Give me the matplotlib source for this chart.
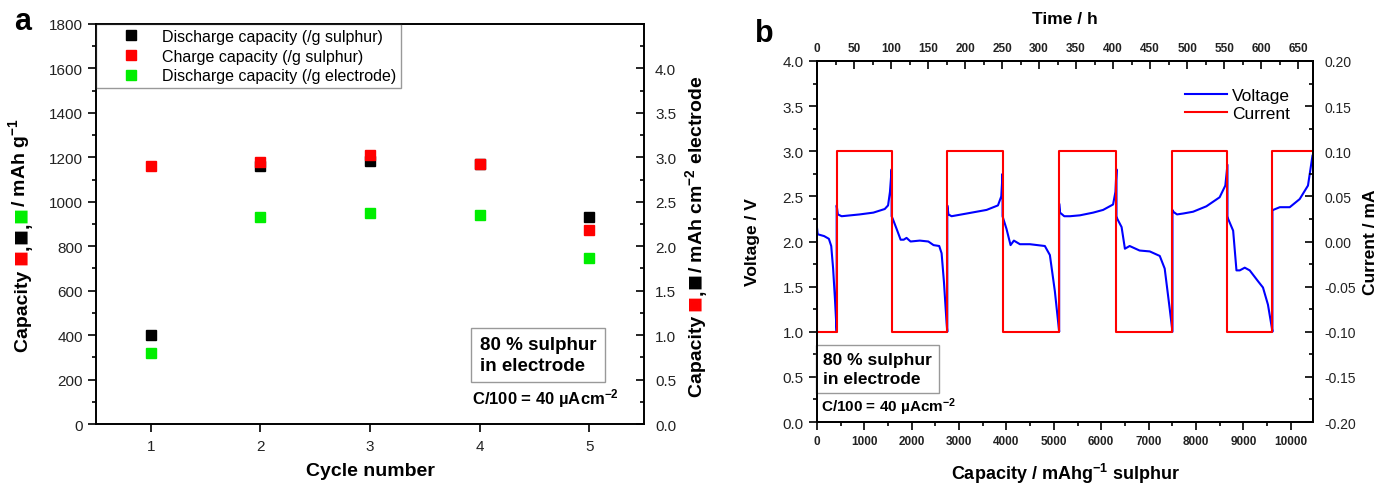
import matplotlib
matplotlib.use("Agg")
import matplotlib.pyplot as plt
from matplotlib.ticker import MultipleLocator, FormatStrFormatter

plt.rcParams['font.family'] = ['Liberation Sans', 'DejaVu Sans']
plt.rcParams['mathtext.fontset'] = 'custom'
plt.rcParams['mathtext.bf'] = 'Liberation Sans:bold'
plt.rcParams['mathtext.rm'] = 'Liberation Sans'
plt.rcParams['mathtext.default'] = 'bf'
plt.rcParams['axes.unicode_minus'] = False
plt.rcParams['axes.linewidth'] = 1.2

# ---- panel a: capacity per cycle ----
cycles = [1, 2, 3, 4, 5]
dis_sulphur = [400, 1160, 1185, 1170, 930]
chg_sulphur = [1160, 1180, 1210, 1170, 875]
dis_electrode = [320, 930, 950, 940, 745]
right_ticks = [0.0, 0.5, 1.0, 1.5, 2.0, 2.5, 3.0, 3.5, 4.0]

# ---- panel b: voltage / current vs capacity ----
cap_v = [0, 15, 150, 250, 300, 340, 380, 415,
         415, 440, 520, 900, 1190, 1430, 1500, 1540, 1575,
         1575, 1600, 1680, 1765, 1830, 1890, 1975, 2170, 2350, 2460, 2580, 2630, 2680, 2735, 2750,
         2750, 2775, 2840, 3160, 3580, 3820, 3890, 3917,
         3917, 3940, 4000, 4086, 4156, 4283, 4494, 4810, 4916, 5021, 5092, 5112,
         5112, 5130, 5220, 5340, 5550, 5830, 6040, 6250, 6300, 6322,
         6322, 6340, 6430, 6500, 6600, 6810, 7025, 7236, 7340, 7447, 7504,
         7504, 7520, 7600, 7730, 7940, 8220, 8500, 8620, 8665,
         8665, 8680, 8785, 8855, 8925, 9030, 9135, 9310, 9415, 9520, 9600, 9614,
         9614, 9630, 9770, 9980, 10190, 10365, 10460]
volt = [2.15, 2.08, 2.06, 2.03, 1.95, 1.70, 1.35, 1.00,
        2.40, 2.30, 2.28, 2.30, 2.32, 2.36, 2.40, 2.55, 2.80,
        2.28, 2.25, 2.14, 2.02, 2.02, 2.04, 2.00, 2.01, 2.00, 1.96, 1.95, 1.87, 1.55, 1.10, 1.00,
        2.40, 2.30, 2.28, 2.31, 2.35, 2.40, 2.50, 2.75,
        2.28, 2.24, 2.14, 1.96, 2.01, 1.97, 1.97, 1.95, 1.85, 1.45, 1.10, 1.00,
        2.42, 2.32, 2.28, 2.28, 2.29, 2.32, 2.35, 2.41, 2.55, 2.80,
        2.28, 2.25, 2.16, 1.92, 1.95, 1.90, 1.89, 1.84, 1.70, 1.25, 1.00,
        2.35, 2.33, 2.30, 2.31, 2.33, 2.39, 2.49, 2.62, 2.85,
        2.28, 2.25, 2.12, 1.68, 1.68, 1.71, 1.68, 1.56, 1.49, 1.30, 1.05, 1.00,
        2.34, 2.35, 2.38, 2.38, 2.47, 2.62, 2.95]

cap_switch = [0, 0, 415, 1575, 2750, 3917, 5112, 6322, 7504, 8665, 9614, 10470]
current = [0.0, -0.1, 0.1, -0.1, 0.1, -0.1, 0.1, -0.1, 0.1, -0.1, 0.1, 0.1]

fig = plt.figure(figsize=(13.78, 4.85), dpi=100)

# ================= panel a =================
ax = fig.add_axes([0.0697, 0.1237, 0.3976, 0.8248])
ax.plot(cycles, dis_sulphur, 's', color='black', ms=7, label='Discharge capacity (/g sulphur)')
ax.plot(cycles, chg_sulphur, 's', color='#ff0000', ms=7, label='Charge capacity (/g sulphur)')
ax.plot(cycles, dis_electrode, 's', color='#00ee00', ms=7, label='Discharge capacity (/g electrode)')
ax.set_xlim(0.5, 5.5)
ax.set_ylim(0, 1800)
ax.set_xticks(cycles)
ax.yaxis.set_major_locator(MultipleLocator(200))
ax.yaxis.set_minor_locator(MultipleLocator(100))
ax.tick_params(which='both', direction='out', width=1.2, labelsize=11, labelcolor='#222222')
ax.tick_params(which='major', length=6)
ax.tick_params(which='minor', length=3)
ax.tick_params(axis='x', pad=5)
ax.set_xlabel('Cycle number', fontsize=14, fontweight='bold', labelpad=6)
leg = ax.legend(loc='upper left', bbox_to_anchor=(0, 1), borderaxespad=0, fontsize=11.5,
                fancybox=False, edgecolor='#999999', framealpha=1, handlelength=3.8,
                handletextpad=0.05, borderpad=0.3, labelspacing=0.3)

ax2 = ax.twinx()
ax2.set_ylim(0, 4.5)
ax2.set_yticks(right_ticks)
ax2.yaxis.set_minor_locator(MultipleLocator(0.25))
ax2.yaxis.set_major_formatter(FormatStrFormatter('%.1f'))
ax2.tick_params(which='both', direction='in', width=1.2, labelsize=11, labelcolor='#222222', pad=8)
ax2.tick_params(which='major', length=6)
ax2.tick_params(which='minor', length=3)

ax.text(0.700, 0.125, '80 % sulphur\nin electrode', transform=ax.transAxes, fontsize=13.5,
        fontweight='bold', va='bottom', ha='left', linespacing=1.3,
        bbox=dict(boxstyle='square,pad=0.45', fc='white', ec='#999999'))
ax.text(0.686, 0.067, 'C/100 = 40 µAcm$^{-2}$', transform=ax.transAxes, fontsize=12,
        fontweight='bold', va='center', ha='left')

fig.text(0.010, 0.955, 'a', fontsize=22, fontweight='bold', va='center')


def vlabel(x, y, parts, size):
    t = fig.text(x, y, parts[0][0], color=parts[0][1], rotation=90, ha='center', va='bottom',
                 fontsize=size, fontweight='bold')
    for s, c in parts[1:]:
        fs = size + 5 if s == '■' else size
        t = ax.annotate(s, xy=(1, 1), xycoords=t, ha='right', va='bottom', rotation=90,
                        color=c, fontsize=fs, fontweight='bold', annotation_clip=False)


vlabel(0.0174, 0.274, [('Capacity ', 'black'), ('■', '#ff0000'), (',', 'black'), ('■', 'black'),
                       (',', 'black'), ('■', '#00ee00'), ('/ mAh g$^{-1}$', 'black')], 14)
vlabel(0.5065, 0.181, [('Capacity ', 'black'), ('■', '#ff0000'), (',', 'black'), ('■', 'black'),
                       ('/ mAh cm$^{-2}$ electrode', 'black')], 14)

# ================= panel b =================
bx = fig.add_axes([0.5929, 0.1278, 0.3599, 0.7444])
lv, = bx.plot(cap_v, volt, color='#0000ff', lw=1.5, label='Voltage')
bx.set_xlim(0, 10470)
bx.set_ylim(0, 4)
bx.yaxis.set_major_locator(MultipleLocator(0.5))
bx.yaxis.set_minor_locator(MultipleLocator(0.25))
bx.yaxis.set_major_formatter(FormatStrFormatter('%.1f'))
bx.xaxis.set_major_locator(MultipleLocator(1000))
bx.xaxis.set_minor_locator(MultipleLocator(500))
bx.tick_params(which='both', direction='out', width=1.2, labelcolor='#222222')
bx.tick_params(which='major', length=6)
bx.tick_params(which='minor', length=3)
bx.tick_params(axis='y', labelsize=11)
bx.tick_params(axis='x', labelsize=8.5)
for lab in bx.get_xticklabels():
    lab.set_fontweight('bold')
bx.set_xlabel('Capacity / mAhg$^{-1}$ sulphur', fontsize=13, fontweight='bold', labelpad=10)
bx.set_ylabel('Voltage / V', fontsize=12.5, fontweight='bold')
bx.yaxis.set_label_coords(-0.115, 0.5)

bc = bx.twinx()
lc, = bc.plot(cap_switch, current, color='#ff0000', lw=1.5, drawstyle='steps-post', label='Current')
bc.set_ylim(-0.2, 0.2)
bc.yaxis.set_major_locator(MultipleLocator(0.05))
bc.yaxis.set_minor_locator(MultipleLocator(0.025))
bc.yaxis.set_major_formatter(FormatStrFormatter('%.2f'))
bc.tick_params(which='both', direction='in', width=1.2, labelsize=10, labelcolor='#222222', pad=8)
bc.tick_params(which='major', length=6)
bc.tick_params(which='minor', length=3)
bc.set_ylabel('Current / mA', fontsize=12.5, fontweight='bold')
bc.yaxis.set_label_coords(1.10, 0.5)

bt = bx.twiny()
bt.set_xlim(0, 670)
bt.xaxis.set_major_locator(MultipleLocator(50))
bt.xaxis.set_minor_locator(MultipleLocator(25))
bt.tick_params(which='both', direction='in', width=1.2, labelsize=8.5, labelcolor='#222222', pad=5)
bt.tick_params(which='major', length=6)
bt.tick_params(which='minor', length=3)
for lab in bt.get_xticklabels():
    lab.set_fontweight('bold')
bt.set_xlabel('Time / h', fontsize=12.5, fontweight='bold', labelpad=14)

bt.legend([lv, lc], ['Voltage', 'Current'], loc='upper right', bbox_to_anchor=(0.985, 0.97),
          frameon=False, fontsize=12.5, handlelength=2.4, handletextpad=0.3, labelspacing=0.2)

bx.text(0.012, 0.10, '80 % sulphur\nin electrode', transform=bx.transAxes, fontsize=12.5,
        fontweight='bold', va='bottom', ha='left', linespacing=1.3,
        bbox=dict(boxstyle='square,pad=0.4', fc='white', ec='#999999'))
bx.text(0.008, 0.044, 'C/100 = 40 µAcm$^{-2}$', transform=bx.transAxes, fontsize=11,
        fontweight='bold', va='center', ha='left')

fig.text(0.548, 0.93, 'b', fontsize=22, fontweight='bold', va='center')

fig.savefig('out.png', dpi=100)
